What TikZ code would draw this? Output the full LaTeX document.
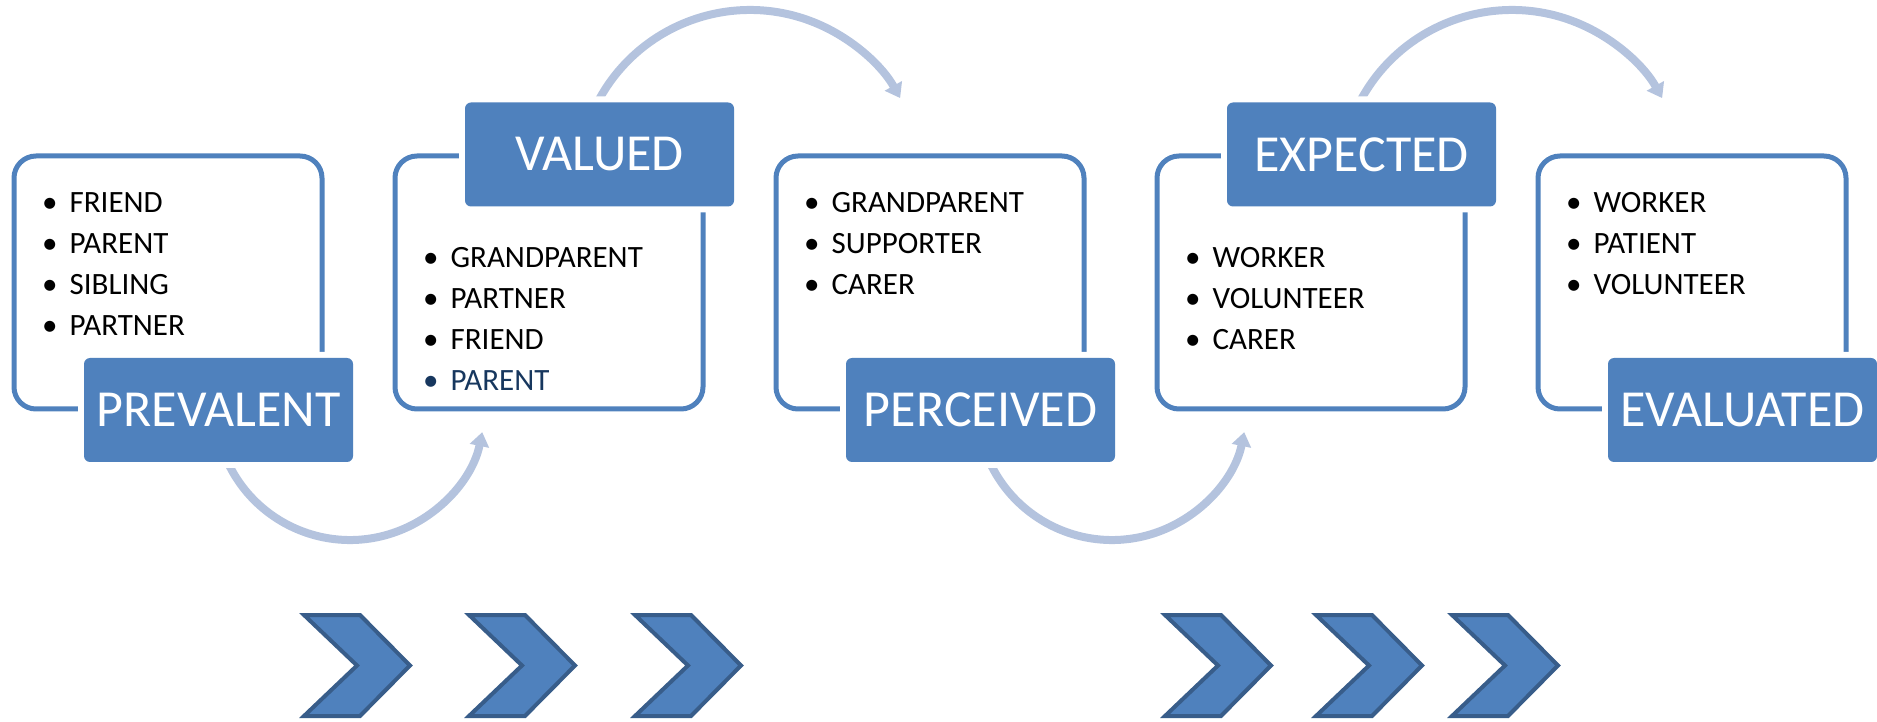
\documentclass[tikz,border=0pt]{standalone}
\usepackage{fontspec}
\setmainfont{Carlito}
\usetikzlibrary{arrows.meta}

\definecolor{boxblue}{RGB}{79,129,189}
\definecolor{arcblue}{RGB}{180,195,222}
\definecolor{chevedge}{RGB}{56,93,138}
\definecolor{navy}{RGB}{23,55,94}

\tikzset{
	frame/.style={draw=boxblue, line width=5pt, rounded corners=22pt},
	stage/.style={fill=boxblue, text=white, rounded corners=6pt, minimum width=269pt, minimum height=104pt, inner sep=0pt, font=\fontsize{52}{60}\selectfont, preaction={draw=white, line width=12pt}},
	item/.style={anchor=base west, inner sep=0pt, font=\fontsize{31}{37}\selectfont},
	loop/.style={draw=arcblue, line width=8pt, -{Triangle[length=14pt,width=19pt]}},
	chev/.style={fill=boxblue, draw=chevedge, line width=4pt, line join=miter}
}

\newcommand{\bul}[1]{\textbullet\hspace{12pt}#1}

\begin{document}
\begin{tikzpicture}[x=1pt, y=1pt]
	\useasboundingbox (0,0) rectangle (1877,721);
	
	% Frames
	\draw[frame] (14,312) rectangle (322,565);
	\draw[frame] (395,312) rectangle (703,565);
	\draw[frame] (776,312) rectangle (1084,565);
	\draw[frame] (1157,312) rectangle (1465,565);
	\draw[frame] (1538,312) rectangle (1846,565);
	
	% Curved arrows
	\draw[loop] (350,316) ++(200:135) arc (200:348.4:135);
	\draw[loop] (1112,316) ++(200:135) arc (200:348.4:135);
	\draw[loop] (750,539) ++(155:172) arc (155:29.2:172);
	\draw[loop] (1512,539) ++(155:172) arc (155:29.2:172);
	
	% Stage labels
	\node[stage] (prevalent) at (218.5,311) {PREVALENT};
	\node[stage] (valued) at (599.5,566.5) {VALUED};
	\node[stage] (perceived) at (980.5,311) {PERCEIVED};
	\node[stage] (expected) at (1361.5,566.5) {EXPECTED};
	\node[stage] (evaluated) at (1742.5,311) {EVALUATED};
	
	% Items
	\node[item] (p1) at (42,508) {\bul{FRIEND}};
	\node[item] (p2) at (42,467) {\bul{PARENT}};
	\node[item] (p3) at (42,426) {\bul{SIBLING}};
	\node[item] (p4) at (42,385) {\bul{PARTNER}};
	
	\node[item] (v1) at (423,453) {\bul{GRANDPARENT}};
	\node[item] (v2) at (423,412) {\bul{PARTNER}};
	\node[item] (v3) at (423,371) {\bul{FRIEND}};
	\node[item, text=navy] (v4) at (423,330) {\bul{PARENT}};
	
	\node[item] (c1) at (804,508) {\bul{GRANDPARENT}};
	\node[item] (c2) at (804,467) {\bul{SUPPORTER}};
	\node[item] (c3) at (804,426) {\bul{CARER}};
	
	\node[item] (x1) at (1185,453) {\bul{WORKER}};
	\node[item] (x2) at (1185,412) {\bul{VOLUNTEER}};
	\node[item] (x3) at (1185,371) {\bul{CARER}};
	
	\node[item] (e1) at (1566,508) {\bul{WORKER}};
	\node[item] (e2) at (1566,467) {\bul{PATIENT}};
	\node[item] (e3) at (1566,426) {\bul{VOLUNTEER}};
	
	% Chevrons
	\foreach \x in {302,467,633,1163,1314,1450}
		\draw[chev] (\x+2,106) -- ++(56,0) -- ++(50,-50.5) -- ++(-50,-50.5) -- ++(-56,0) -- ++(53,50.5) -- cycle;
	
\end{tikzpicture}
\end{document}
